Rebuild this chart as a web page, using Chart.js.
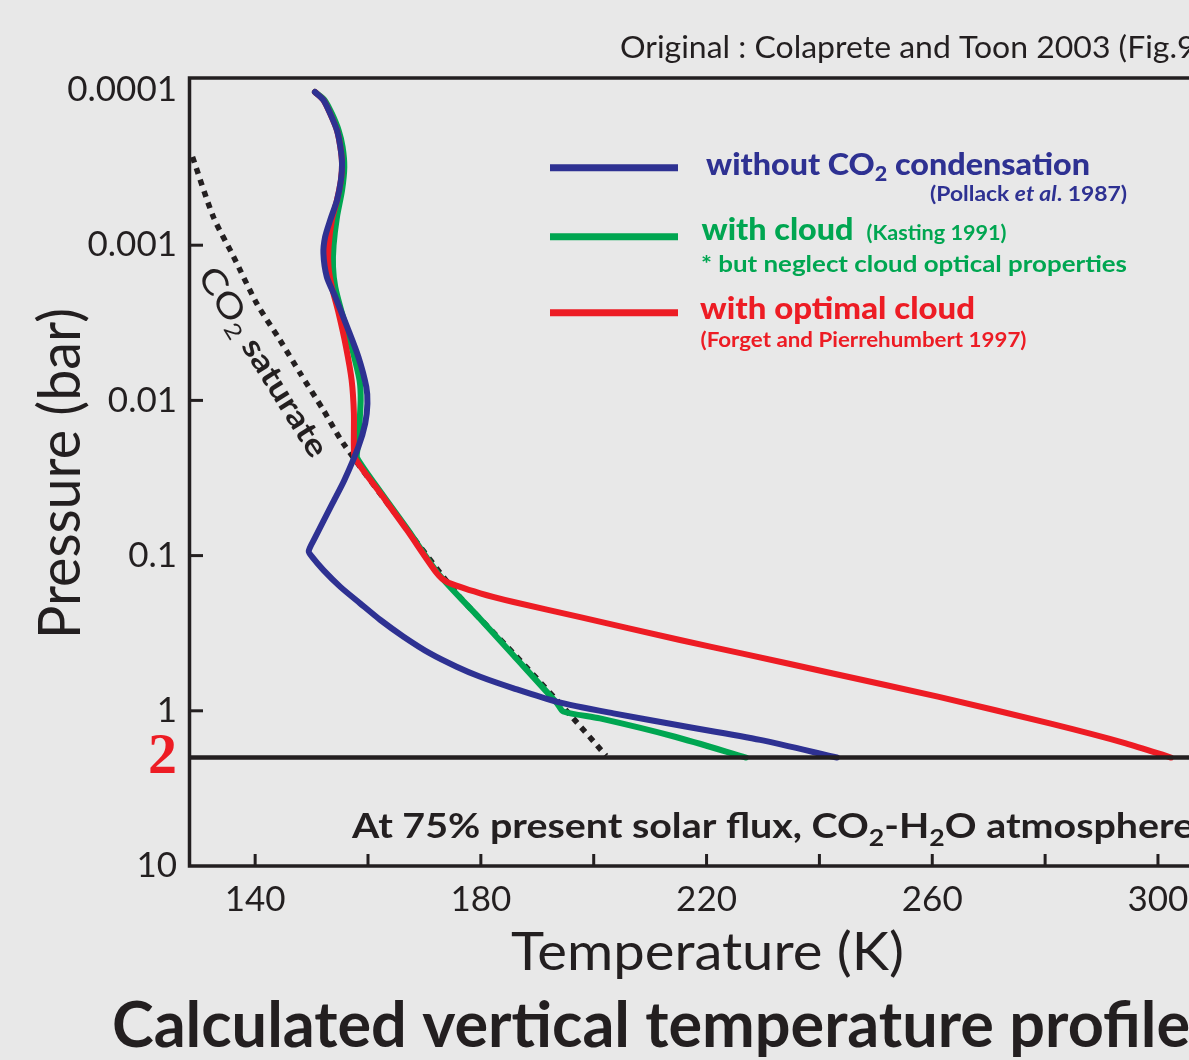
<!DOCTYPE html>
<html>
<head>
<meta charset="utf-8">
<script src="https://cdn.jsdelivr.net/npm/chart.js@4.4.1/dist/chart.umd.min.js"></script>
<style>
html,body{margin:0;padding:0;background:#e8e8e8;overflow:hidden;}
canvas{display:block;}
</style>
</head>
<body>
<canvas id="c" width="1189" height="1060"></canvas>
<script>
// ---- Data (temperature in K, pressure in bar) ----
const blueT = [150.6,152.1,153.3,154.5,155.1,155.4,155.2,154.5,153.3,152.4,152.1,152.7,154.2,156.3,158.3,159.7,159.9,159.5,158.3,155.8,153.7,150.5,149.5,150.1,152.1,155.1,158.6,162.2,166.3,171.0,175.7,179.9,185.8,193.5,203.5,215.3,229.5,243.1];
const blueP = [1.03e-4,1.16e-4,1.42e-4,1.82e-4,2.33e-4,2.98e-4,3.81e-4,5.13e-4,6.90e-4,8.85e-4,1.13e-3,1.60e-3,2.15e-3,3.36e-3,5.25e-3,8.19e-3,0.0105,0.0141,0.0199,0.0327,0.0461,0.078,0.0935,0.102,0.124,0.159,0.203,0.260,0.333,0.427,0.520,0.604,0.717,0.875,1.039,1.245,1.54,2.0];

const redT = [150.6,152.1,153.3,154.5,155.1,155.4,155.2,154.5,153.6,153.0,153.0,153.6,154.8,156.1,157.1,157.5,157.5,157.7,162.2,166.9,172.2,174.0,179.9,185.8,197.6,215.3,226.4,242.4,261.0,281.0,294.3,302.3];
const redP = [1.03e-4,1.16e-4,1.42e-4,1.82e-4,2.33e-4,2.98e-4,3.81e-4,5.13e-4,6.90e-4,1.03e-3,1.38e-3,1.86e-3,2.75e-3,4.52e-3,7.41e-3,0.0121,0.0199,0.0236,0.0397,0.0685,0.130,0.148,0.175,0.199,0.249,0.350,0.428,0.575,0.811,1.21,1.62,2.0];

const greenT = [150.6,152.3,153.6,154.8,155.5,155.8,155.4,154.5,153.9,153.8,154.2,155.4,157.1,158.5,158.7,158.4,158.1,158.1,162.4,167.1,172.4,179.9,185.8,193.5,194.6,201.1,214.4,227.0];
const greenP = [1.03e-4,1.16e-4,1.42e-4,1.82e-4,2.33e-4,3.13e-4,4.43e-4,6.58e-4,1.0e-3,1.38e-3,1.86e-3,2.75e-3,4.52e-3,7.41e-3,0.0100,0.0156,0.0209,0.0236,0.0397,0.0685,0.130,0.256,0.440,0.895,1.01,1.12,1.47,2.0];

const satT = [128.9,132.6,136.2,140.3,144.4,148.0,152.1,155.6,165.7,175.7,185.8,195.8,202.2];
const satP = [2.70e-4,6.58e-4,1.19e-3,2.38e-3,4.09e-3,6.70e-3,0.01156,0.0189,0.059,0.175,0.427,1.06,1.95];

const xTickValues = [140,160,180,200,220,240,260,280,300];
const xLabelValues = [140,180,220,260,300];
const yTickValues = [0.0001,0.001,0.01,0.1,1,2,10];
const yTickLabels = ['0.0001','0.001','0.01','0.1','1','2','10'];
const yTickMarkValues = [0.001,0.01,0.1,1];
const surfacePressure = 2;

const BLUE = '#2e3192', RED = '#ed1c24', GREEN = '#00a651', INK = '#231f20';

function series(label, T, P, color, width) {
  return {
    label: label,
    data: T.map((t, i) => ({x: t, y: P[i]})),
    showLine: true,
    borderColor: color,
    backgroundColor: color,
    borderWidth: width,
    pointRadius: 0,
    tension: 0.25,
    borderCapStyle: 'round',
    borderJoinStyle: 'round',
    fill: false
  };
}

function richText(ctx, segs, x, y, color, sx, rot) {
  ctx.save();
  ctx.fillStyle = color;
  ctx.textAlign = 'left';
  ctx.textBaseline = 'alphabetic';
  ctx.translate(x, y);
  if (rot) ctx.rotate(rot);
  ctx.scale(sx, 1);
  let cx = 0;
  segs.forEach(s => {
    ctx.font = s.font;
    ctx.fillText(s.t, cx, s.dy || 0);
    cx += ctx.measureText(s.t).width;
  });
  ctx.restore();
}
function widthOf(ctx, segs) {
  let w = 0;
  segs.forEach(s => { ctx.font = s.font; w += ctx.measureText(s.t).width; });
  return w;
}

const bgPlugin = {
  id: 'bg',
  beforeDraw(chart) {
    const c = chart.ctx;
    c.save();
    c.fillStyle = '#e8e8e8';
    c.fillRect(0, 0, chart.width, chart.height);
    c.restore();
  }
};

const decoPlugin = {
  id: 'deco',
  afterDatasetsDraw(chart) {
    const c = chart.ctx, a = chart.chartArea, xs = chart.scales.x, ys = chart.scales.y;
    c.save();
    c.strokeStyle = INK;
    c.lineCap = 'butt';
    c.lineWidth = 4.5;
    const y2 = ys.getPixelForValue(surfacePressure);
    c.beginPath(); c.moveTo(a.left, y2); c.lineTo(a.right + 5, y2); c.stroke();
    c.lineWidth = 3.5;
    c.beginPath();
    c.moveTo(a.right + 5, a.top); c.lineTo(a.left + 1.5, a.top);
    c.lineTo(a.left + 1.5, a.bottom); c.lineTo(a.right + 5, a.bottom);
    c.stroke();
    c.lineWidth = 3;
    yTickMarkValues.forEach(v => {
      const py = ys.getPixelForValue(v);
      c.beginPath(); c.moveTo(a.left, py); c.lineTo(a.left + 15, py); c.stroke();
    });
    xTickValues.forEach(v => {
      const px = xs.getPixelForValue(v);
      c.beginPath(); c.moveTo(px, a.bottom); c.lineTo(px, a.bottom - 12); c.stroke();
    });
    c.restore();

    let segs = [{t: 'Original : Colaprete and Toon 2003 (Fig.9)', font: '30px Lato'}];
    let sx = 557 / widthOf(c, [{t: 'Original : Colaprete and Toon 2003 (Fig.', font: '30px Lato'}]);
    richText(c, segs, 620, 58, INK, sx);

    segs = [
      {t: 'At 75% present solar flux, CO', font: 'bold 34px Lato'},
      {t: '2', font: 'bold 23px Lato', dy: 8},
      {t: '-H', font: 'bold 34px Lato'},
      {t: '2', font: 'bold 23px Lato', dy: 8},
      {t: 'O atmosphere', font: 'bold 34px Lato'}
    ];
    sx = 450 / widthOf(c, [{t: 'At 75% present solar flux,', font: 'bold 34px Lato'}]);
    richText(c, segs, 352, 838, INK, sx);

    segs = [{t: 'Temperature (K)', font: '53px Lato'}];
    richText(c, segs, 511, 970, INK, 393 / widthOf(c, segs));
    segs = [{t: 'Pressure (bar)', font: '58px Lato'}];
    richText(c, segs, 80, 639, INK, 331 / widthOf(c, segs), -Math.PI / 2);

    segs = [{t: 'Calculated vertical temperature profiles', font: 'bold 64px Lato'}];
    sx = 882 / widthOf(c, [{t: 'Calculated vertical temperature', font: 'bold 64px Lato'}]);
    richText(c, segs, 112, 1047, INK, sx);

    segs = [
      {t: 'CO', font: '34px Lato'},
      {t: '2', font: '22px Lato', dy: 6},
      {t: ' saturate', font: 'bold 31px Lato'}
    ];
    const ang = 58 * Math.PI / 180;
    richText(c, segs, 206 - 11 * Math.sin(ang), 270 + 11 * Math.cos(ang), INK, 217 / widthOf(c, segs), ang);

    c.save();
    c.lineWidth = 7; c.lineCap = 'butt';
    [[BLUE, 167.7], [GREEN, 236.7], [RED, 312.7]].forEach(([col, ly]) => {
      c.strokeStyle = col;
      c.beginPath(); c.moveTo(550, ly); c.lineTo(678, ly); c.stroke();
    });
    c.restore();

    segs = [
      {t: 'without CO', font: '900 30px Lato'},
      {t: '2', font: '900 20px Lato', dy: 6},
      {t: ' condensation', font: '900 30px Lato'}
    ];
    richText(c, segs, 706, 175, BLUE, 384 / widthOf(c, segs));
    segs = [
      {t: '(Pollack ', font: 'bold 21px Lato'},
      {t: 'et al', font: 'italic bold 21px Lato'},
      {t: '. 1987)', font: 'bold 21px Lato'}
    ];
    richText(c, segs, 930, 201, BLUE, 197 / widthOf(c, segs));

    segs = [{t: 'with cloud', font: '900 30px Lato'}];
    richText(c, segs, 701.5, 240, GREEN, 152 / widthOf(c, segs));
    segs = [{t: '(Kasting 1991)', font: 'bold 21px Lato'}];
    richText(c, segs, 866.5, 240, GREEN, 140 / widthOf(c, segs));
    segs = [{t: '* but neglect cloud optical properties', font: 'bold 23px Lato'}];
    richText(c, segs, 701, 272, GREEN, 426 / widthOf(c, segs));

    segs = [{t: 'with optimal cloud', font: '900 30px Lato'}];
    richText(c, segs, 700, 319, RED, 275 / widthOf(c, segs));
    segs = [{t: '(Forget and Pierrehumbert 1997)', font: 'bold 21px Lato'}];
    richText(c, segs, 700.5, 347, RED, 326 / widthOf(c, segs));
  }
};

Chart.defaults.color = INK;

new Chart(document.getElementById('c'), {
  type: 'scatter',
  data: {
    datasets: [
      series('without CO2 condensation (Pollack et al. 1987)', blueT, blueP, BLUE, 6),
      series('with optimal cloud (Forget and Pierrehumbert 1997)', redT, redP, RED, 6),
      series('with cloud (Kasting 1991)', greenT, greenP, GREEN, 6),
      Object.assign(series('CO2 saturate', satT, satP, INK, 5.5), {borderDash: [6, 6], borderCapStyle: 'butt'})
    ]
  },
  options: {
    responsive: false,
    animation: false,
    devicePixelRatio: 1,
    layout: {padding: {top: 78, left: 0, right: 0, bottom: 0}},
    plugins: {legend: {display: false}, tooltip: {enabled: false}, title: {display: false}},
    scales: {
      x: {
        type: 'linear', position: 'bottom', min: 128.1, max: 305.5,
        grid: {display: false}, border: {display: false},
        afterBuildTicks: s => { s.ticks = xTickValues.map(v => ({value: v})); },
        afterFit: s => { s.height = 194; s.paddingLeft = 0; s.paddingRight = 0; },
        ticks: {
          autoSkip: false, maxRotation: 0, minRotation: 0, padding: 5,
          font: {family: 'Lato', size: 35}, color: INK,
          callback: v => xLabelValues.includes(v) ? String(v) : ''
        }
      },
      y: {
        type: 'logarithmic', position: 'left', reverse: true, min: 8.37e-5, max: 10,
        grid: {display: false}, border: {display: false},
        afterBuildTicks: s => { s.ticks = yTickValues.map(v => ({value: v})); },
        afterFit: s => { s.width = 188; s.paddingTop = 0; s.paddingBottom = 0; },
        ticks: {
          autoSkip: false, padding: 3,
          font: c => (c.tick && c.tick.value === surfacePressure) ? {family: 'Liberation Serif', size: 58, weight: 'bold'} : {family: 'Lato', size: 35},
          color: c => (c.tick && c.tick.value === surfacePressure) ? RED : INK,
          callback: (v) => yTickLabels[yTickValues.indexOf(v)] ?? ''
        }
      }
    }
  },
  plugins: [bgPlugin, decoPlugin]
});
</script>
</body>
</html>
